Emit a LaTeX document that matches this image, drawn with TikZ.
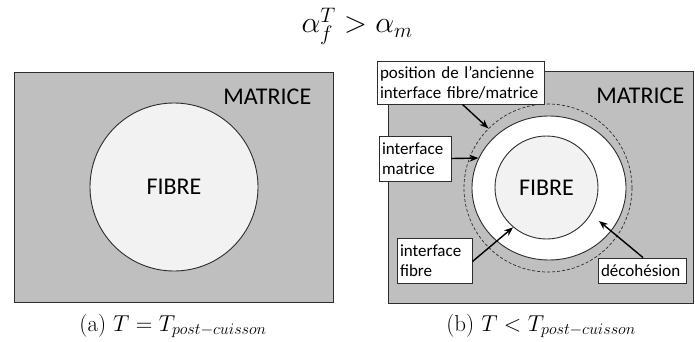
\documentclass[tikz,border=0pt]{standalone}
\usepackage{fix-cm}
\usepackage{amsmath}
\usepackage{fontspec}
\newfontfamily\calibri{Carlito}
\usetikzlibrary{arrows.meta,shapes.geometric}
\definecolor{matgris}{RGB}{191,191,191}
\definecolor{fibgris}{RGB}{242,242,242}
\definecolor{trait}{RGB}{45,45,45}

\begin{document}
\begin{tikzpicture}[x=1pt,y=-1pt,line width=.9pt,draw=trait,
  etiq/.style={draw=trait,fill=white,align=left,inner sep=3pt,font=\calibri\fontsize{17}{20}\selectfont},
  fleche/.style={-{Stealth[length=9pt,width=7pt]},line width=1.4pt,black},
  gros/.style={font=\calibri\fontsize{24}{28}\selectfont},
  legende/.style={anchor=base,font=\fontsize{23}{28}\selectfont}]
\useasboundingbox (0,0) rectangle (695,342);
\node[anchor=base,font=\fontsize{30}{36}\selectfont] (titre) at (357,33) {$\alpha_f^T>\alpha_m$};
% (a)
\draw[fill=matgris] (14,72) rectangle (333,302);
\node[circle,draw,fill=fibgris,minimum size=168,inner sep=0,gros] (fibA) at (174,187) {FIBRE};
\node[gros,anchor=base east] (matA) at (315,104) {MATRICE};
\node[legende] (capA) at (173,331) {(a) $T=T_{post-cuisson}$};
% (b)
\draw[fill=matgris] (388,71) rectangle (693,303);
\node[circle,draw,dashed,dash pattern=on 3pt off 2pt,line width=.7pt,minimum size=168,inner sep=0] (ancien) at (548,188) {};
\node[ellipse,draw,fill=white,minimum width=154,minimum height=144,inner sep=0] (vide) at (549,188) {};
\node[circle,draw,fill=fibgris,minimum size=103,inner sep=0,gros] (fibB) at (546.5,187.5) {FIBRE};
\node[gros,anchor=base east] (matB) at (688,103) {MATRICE};
\node[legende] (capB) at (541,331) {(b) $T<T_{post-cuisson}$};
\coordinate (decol) at (599,221);
\node[etiq,text width=161,minimum height=43] (pos) at (460.5,82.5) {position de l’ancienne\\interface fibre/matrice};
\node[etiq,text width=66,minimum height=45] (imat) at (415,158.5) {interface\\matrice};
\node[etiq,text width=69,minimum height=45] (ifib) at (434.5,260.5) {interface\\fibre};
\node[etiq,text width=82,minimum height=25] (deco) at (642,270.5) {décohésion};
\draw[fleche] ([xshift=2]pos.south) -- (ancien.135);
\draw[fleche] (imat.east) -- (vide.157);
\draw[fleche] ([yshift=-1]ifib.east) -- (fibB.230);
\draw[fleche] ([xshift=1]deco.north) -- (decol);
\end{tikzpicture}
\end{document}
